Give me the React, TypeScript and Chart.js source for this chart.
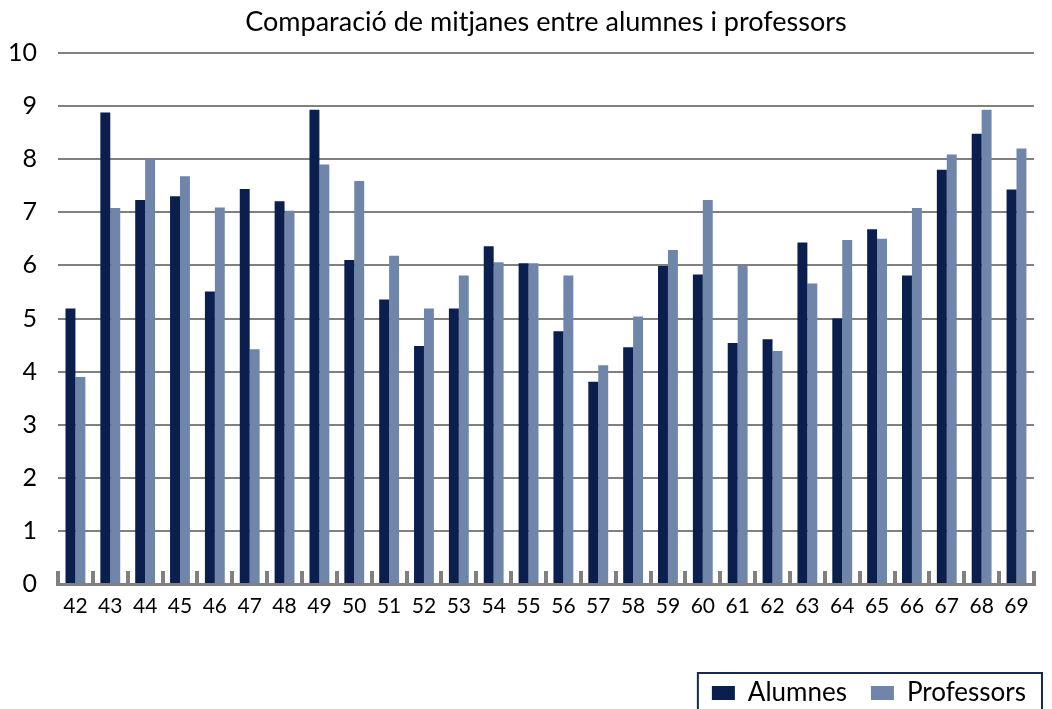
import React, { useEffect, useRef } from "react";
import { Chart, registerables } from "chart.js";

Chart.register(...registerables);

const TITLE = "Comparació de mitjanes entre alumnes i professors";
const CATEGORIES = [
  "42", "43", "44", "45", "46", "47", "48", "49", "50", "51",
  "52", "53", "54", "55", "56", "57", "58", "59", "60", "61",
  "62", "63", "64", "65", "66", "67", "68", "69",
];
const ALUMNES = [
  5.19, 8.88, 7.23, 7.3, 5.51, 7.44, 7.21, 8.93, 6.1, 5.36,
  4.48, 5.19, 6.36, 6.04, 4.76, 3.81, 4.46, 5.99, 5.83, 4.54,
  4.61, 6.43, 5.0, 6.68, 5.81, 7.8, 8.48, 7.43,
];
const PROFESSORS = [
  3.9, 7.08, 8.0, 7.68, 7.09, 4.42, 7.03, 7.9, 7.59, 6.18,
  5.19, 5.81, 6.06, 6.04, 5.81, 4.12, 5.04, 6.29, 7.23, 5.99,
  4.39, 5.66, 6.48, 6.5, 7.08, 8.09, 8.93, 8.2,
];
const SERIES_NAMES = ["Alumnes", "Professors"];
const Y_MIN = 0;
const Y_MAX = 10;
const Y_STEP = 1;

const DARK = "#0b1f4f";
const LIGHT = "#6f86aa";
const GRID = "#808080";
const FONT = "Lato, 'Open Sans', sans-serif";

const legendBorder = {
  id: "legendBorder",
  afterDraw(chart: any) {
    const lg = chart.legend;
    if (!lg || !lg.legendHitBoxes || !lg.legendHitBoxes.length) return;
    const hb = lg.legendHitBoxes;
    const first = hb[0];
    const last = hb[hb.length - 1];
    const x0 = first.left - 14;
    const y0 = first.top - 7;
    const x1 = last.left + last.width + 16;
    const ctx = chart.ctx;
    ctx.save();
    ctx.strokeStyle = "#14285a";
    ctx.lineWidth = 2;
    ctx.strokeRect(x0, y0, x1 - x0, chart.height - y0 + 10);
    ctx.restore();
  },
};

export default function App() {
  const ref = useRef<HTMLCanvasElement | null>(null);

  useEffect(() => {
    if (!ref.current) return;
    const chart = new Chart(ref.current, {
      type: "bar",
      data: {
        labels: CATEGORIES,
        datasets: [
          {
            label: SERIES_NAMES[0],
            data: ALUMNES,
            backgroundColor: DARK,
            borderWidth: 0,
            categoryPercentage: 0.57,
            barPercentage: 1.0,
          },
          {
            label: SERIES_NAMES[1],
            data: PROFESSORS,
            backgroundColor: LIGHT,
            borderWidth: 0,
            categoryPercentage: 0.57,
            barPercentage: 1.0,
          },
        ],
      },
      options: {
        responsive: true,
        maintainAspectRatio: false,
        animation: false,
        layout: { padding: { left: 0, right: 2, top: 0, bottom: 0 } },
        plugins: {
          tooltip: { enabled: false },
          title: {
            display: true,
            text: TITLE,
            fullSize: false,
            color: "#000",
            font: { family: FONT, size: 27, weight: "normal", lineHeight: 1.2 },
            padding: { top: 6, bottom: 14.6 },
          },
          legend: {
            display: true,
            position: "bottom",
            align: "end",
            labels: {
              color: "#000",
              font: { family: FONT, size: 26, lineHeight: 1.2 },
              boxWidth: 23,
              boxHeight: 14,
              padding: 24,
            },
          },
        },
        scales: {
          x: {
            grid: {
              display: true,
              drawOnChartArea: false,
              drawTicks: true,
              tickLength: -13,
              lineWidth: 4,
              color: GRID,
              offset: true,
            },
            border: { display: true, color: GRID, width: 3 },
            ticks: {
              color: "#000",
              font: { family: FONT, size: 21, lineHeight: 1.2 },
              padding: 23,
              maxRotation: 0,
              autoSkip: false,
            },
            afterFit(scale: any) {
              scale.height = 72;
            },
          },
          y: {
            min: Y_MIN,
            max: Y_MAX,
            grid: {
              color: GRID,
              lineWidth: 2,
              drawTicks: false,
            },
            border: { display: false },
            ticks: {
              stepSize: Y_STEP,
              color: "#000",
              font: { family: FONT, size: 25, lineHeight: 1.2 },
              padding: 21,
            },
            afterFit(scale: any) {
              scale.width = 58;
            },
          },
        },
      },
      plugins: [legendBorder],
    });
    return () => chart.destroy();
  }, []);

  return (
    <div
      style={{
        position: "fixed",
        left: 0,
        top: 0,
        width: 1052,
        height: 709,
        overflow: "hidden",
        background: "#fff",
      }}
    >
      <div style={{ position: "relative", width: 1052, height: 716 }}>
        <canvas ref={ref} />
      </div>
    </div>
  );
}
